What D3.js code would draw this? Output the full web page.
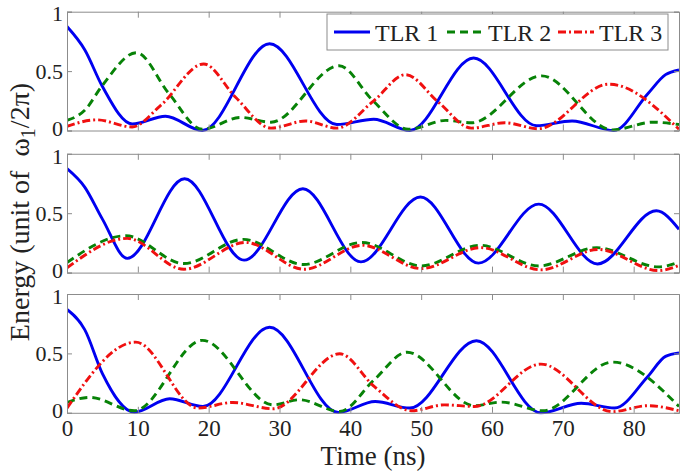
<!DOCTYPE html>
<html>
<head>
<meta charset="utf-8">
<script src="https://cdn.jsdelivr.net/npm/d3@7"></script>
<style>
  html, body { margin: 0; padding: 0; background: #fff; }
  svg { display: block; }
  svg text { font-family: "Liberation Serif", Tinos, "Times New Roman", Times, "Nimbus Roman", "DejaVu Serif", serif !important; fill: #222; }
</style>
</head>
<body>
<svg id="chart" width="685" height="474"></svg>
<script>
// ---------- data (time in ns, energy in units of omega1/2pi) ----------
const seriesNames = ["TLR 1", "TLR 2", "TLR 3"];
const xTicks = [0, 10, 20, 30, 40, 50, 60, 70, 80];
const yTicks = [0, 0.5, 1];
const yTickLabels = ["0", "0.5", "1"];

// Panel 1 (top)
const p1BlueT  = [0, 2.5, 5, 9.2, 13.9, 19.1, 28.6, 38.1, 43.3, 48.4, 57.4, 66.3, 71.3, 77.2, 82, 84.5, 86.4];
const p1BlueE  = [0.875, 0.68, 0.37, 0.055, 0.12, 0.0, 0.73, 0.05, 0.095, 0.0, 0.61, 0.04, 0.08, 0.0, 0.31, 0.47, 0.51];
const p1GreenT = [0, 2.5, 5, 9.8, 14.4, 19.1, 24.5, 28.8, 38.4, 43.2, 48.2, 53.5, 57.1, 67, 77, 82.7, 86.4];
const p1GreenE = [0.085, 0.17, 0.38, 0.655, 0.31, 0.01, 0.11, 0.07, 0.545, 0.25, 0.01, 0.085, 0.065, 0.46, 0.005, 0.07, 0.05];
const p1RedT   = [0, 4.2, 9.2, 13.2, 19.3, 23.8, 28.8, 33.7, 38.1, 43.3, 47.8, 52.4, 57.1, 61.8, 66.5, 76.5, 86.4];
const p1RedE   = [0.035, 0.09, 0.03, 0.21, 0.56, 0.28, 0.02, 0.08, 0.02, 0.25, 0.47, 0.24, 0.02, 0.065, 0.015, 0.39, 0.01];

// Panel 2 (middle)
const p2BlueT  = [0, 2.5, 5, 8.5, 16.6, 25.0, 33.3, 41.5, 49.9, 58.1, 66.6, 74.9, 83.2, 86.4];
const p2BlueE  = [0.875, 0.72, 0.45, 0.12, 0.79, 0.105, 0.706, 0.09, 0.636, 0.08, 0.576, 0.073, 0.52, 0.365];
const p2GreenT = [0, 8.3, 16.5, 24.9, 33.4, 41.6, 50, 58.3, 66.6, 74.8, 83.5, 86.4];
const p2GreenE = [0.085, 0.31, 0.076, 0.28, 0.068, 0.254, 0.056, 0.23, 0.056, 0.21, 0.048, 0.09];
const p2RedT   = [0, 8.5, 16.5, 25.2, 33.5, 41.7, 50, 58.4, 66.9, 75, 83.5, 86.4];
const p2RedE   = [0.04, 0.288, 0.028, 0.254, 0.028, 0.23, 0.034, 0.21, 0.023, 0.195, 0.017, 0.06];

// Panel 3 (bottom)
const p3BlueT  = [0, 2.5, 5, 9.5, 14.5, 19.2, 28.6, 38.3, 43.5, 48.4, 57.8, 66.9, 72.6, 77.3, 82, 84.5, 86.4];
const p3BlueE  = [0.87, 0.70, 0.33, 0.005, 0.118, 0.053, 0.72, 0.003, 0.095, 0.04, 0.607, 0.0, 0.08, 0.04, 0.306, 0.475, 0.503];
const p3GreenT = [0, 3.2, 9.5, 19.1, 29.1, 32.8, 38.5, 43.4, 48, 57.5, 61.3, 67.2, 77, 86.4];
const p3GreenE = [0.087, 0.13, 0.017, 0.61, 0.067, 0.11, 0.011, 0.28, 0.51, 0.06, 0.09, 0.017, 0.427, 0.053];
const p3RedT   = [0, 9.7, 18.5, 23.4, 29.1, 38.5, 43.4, 48.6, 53.3, 57.5, 66.9, 77, 82, 86.4];
const p3RedE   = [0.04, 0.595, 0.04, 0.087, 0.034, 0.497, 0.22, 0.017, 0.067, 0.053, 0.41, 0.01, 0.06, 0.017];

// ---------- build ----------
const panels = [
  [[p1BlueT, p1BlueE], [p1GreenT, p1GreenE], [p1RedT, p1RedE]],
  [[p2BlueT, p2BlueE], [p2GreenT, p2GreenE], [p2RedT, p2RedE]],
  [[p3BlueT, p3BlueE], [p3GreenT, p3GreenE], [p3RedT, p3RedE]]
];

const styles = [
  { color: "#0000f0", dash: null },
  { color: "#078207", dash: "8,5" },
  { color: "#f01010", dash: "8,3,2,3" }
];

const FONT = '"Liberation Serif", Tinos, "Times New Roman", Times, "Nimbus Roman", "DejaVu Serif", serif';
const svg = d3.select("#chart");
const left = 67, right = 679;
const panelTops = [11.7, 153.8, 294];
const panelH = 118.8;
const frameColor = "#8c8c8c";

const x = d3.scaleLinear().domain([0, 86.4]).range([left, right]);

const defs = svg.append("defs");

panels.forEach((series, pi) => {
  const top = panelTops[pi];
  const y = d3.scaleLinear().domain([0, 1]).range([top + panelH, top]);
  const g = svg.append("g");

  defs.append("clipPath").attr("id", "clip" + pi)
    .append("rect").attr("x", left).attr("y", top - 2)
    .attr("width", right - left).attr("height", panelH + 4);

  // lines
  const line = d3.line().x(d => x(d[0])).y(d => y(d[1])).curve(d3.curveMonotoneX);
  const lg = g.append("g").attr("clip-path", `url(#clip${pi})`);
  series.forEach((s, si) => {
    const pts = s[0].map((t, i) => [t, s[1][i]]);
    lg.append("path").datum(pts)
      .attr("d", line)
      .attr("fill", "none")
      .attr("stroke", styles[si].color)
      .attr("stroke-width", 2.9)
      .attr("stroke-dasharray", styles[si].dash)
      .attr("stroke-linejoin", "round");
  });

  // axes (inward ticks, MATLAB style)
  const axB = d3.axisBottom(x).tickValues(xTicks).tickSize(-6).tickFormat(pi === 2 ? d3.format("d") : () => "");
  const axT = d3.axisTop(x).tickValues(xTicks).tickSize(-6).tickFormat(() => "");
  const axL = d3.axisLeft(y).tickValues(yTicks).tickSize(-5).tickFormat((d, i) => yTickLabels[i]);
  const axR = d3.axisRight(y).tickValues(yTicks).tickSize(-5).tickFormat(() => "");

  const gb = g.append("g").attr("transform", `translate(0,${top + panelH})`).call(axB);
  const gt = g.append("g").attr("transform", `translate(0,${top})`).call(axT);
  const gl = g.append("g").attr("transform", `translate(${left},0)`).call(axL);
  const gr = g.append("g").attr("transform", `translate(${right},0)`).call(axR);
  [gb, gt, gl, gr].forEach(a => {
    a.attr("font-family", FONT);
    a.select(".domain").attr("stroke", frameColor).attr("stroke-width", 1);
    a.selectAll(".tick line").attr("stroke", frameColor).attr("stroke-width", 1);
  });
  gl.selectAll(".tick text").attr("x", -4).attr("font-size", 22).attr("fill", "#222")
    .attr("dy", d => d === 0 ? "0.22em" : (d === 1 ? "0.42em" : "0.32em"));
  gb.selectAll(".tick text").attr("y", 7).attr("font-size", 23).attr("fill", "#222");
});

// x-axis title
svg.append("text")
  .attr("x", (left + right) / 2).attr("y", 465)
  .attr("text-anchor", "middle").attr("font-size", 27)
  .attr("font-family", FONT)
  .text("Time (ns)");

// y-axis title
const yl = svg.append("text")
  .attr("transform", "translate(29,212) rotate(-90)")
  .attr("text-anchor", "middle").attr("font-size", 28)
  .attr("font-family", FONT)
  .style("white-space", "pre");
yl.append("tspan").text("Energy (unit of  ω");
yl.append("tspan").attr("font-size", 20).attr("dy", 6).text("1");
yl.append("tspan").attr("dy", -6).text("/2π)");

// legend
const legX = 327, legY = 14, legW = 341, legH = 36;
const leg = svg.append("g").attr("font-family", FONT);
leg.append("rect").attr("x", legX).attr("y", legY).attr("width", legW).attr("height", legH)
  .attr("fill", "#fff").attr("stroke", frameColor).attr("stroke-width", 1);
const legLineX = [334, 447, 558];
seriesNames.forEach((name, i) => {
  leg.append("line")
    .attr("x1", legLineX[i]).attr("x2", legLineX[i] + 36)
    .attr("y1", 32).attr("y2", 32)
    .attr("stroke", styles[i].color).attr("stroke-width", 2.9)
    .attr("stroke-dasharray", styles[i].dash);
  leg.append("text")
    .attr("x", legLineX[i] + 41).attr("y", 40.5)
    .attr("font-size", 24)
    .text(name);
});
</script>
</body>
</html>
